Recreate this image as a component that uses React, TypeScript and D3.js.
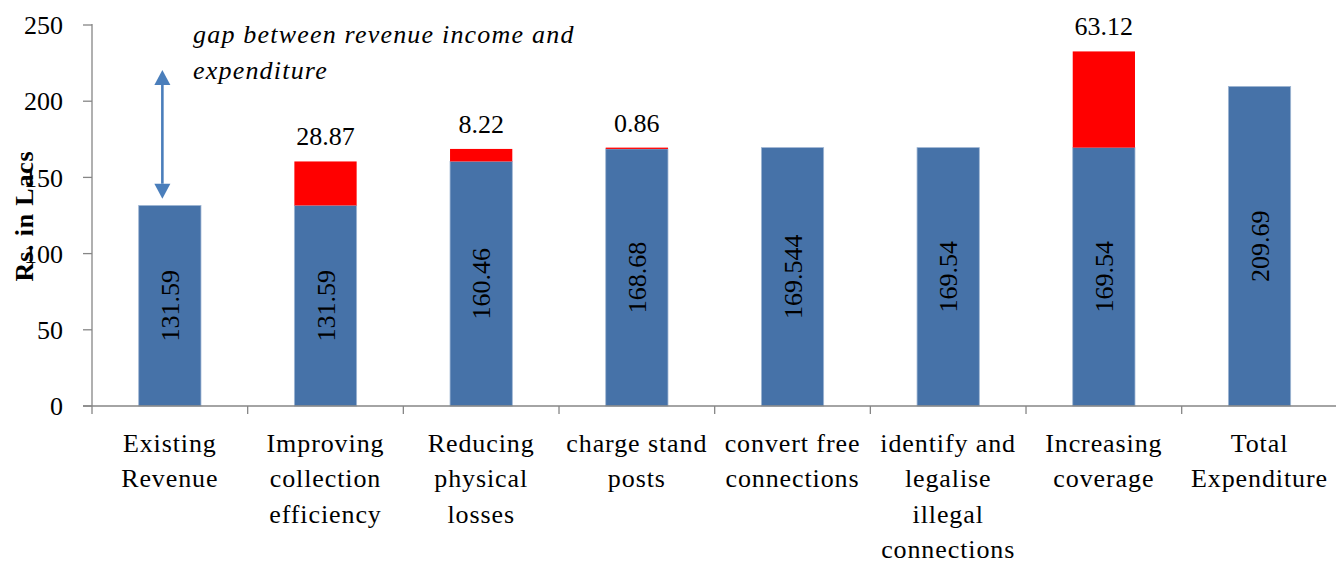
import React from "react";
import * as d3 from "d3";

const categories: string[][] = [
  ["Existing", "Revenue"],
  ["Improving", "collection", "efficiency"],
  ["Reducing", "physical", "losses"],
  ["charge stand", "posts"],
  ["convert free", "connections"],
  ["identify and", "legalise", "illegal", "connections"],
  ["Increasing", "coverage"],
  ["Total", "Expenditure"],
];
const baseValues = [131.59, 131.59, 160.46, 168.68, 169.544, 169.54, 169.54, 209.69];
const baseLabels = ["131.59", "131.59", "160.46", "168.68", "169.544", "169.54", "169.54", "209.69"];
const gapValues = [0, 28.87, 8.22, 0.86, 0, 0, 63.12, 0];
const gapLabels = ["", "28.87", "8.22", "0.86", "", "", "63.12", ""];
const yTicks = [0, 50, 100, 150, 200, 250];
const arrowRange = [136, 220.5];
const yTitle = "Rs. in Lacs";
const noteLines = ["gap between revenue income and", "expenditure"];

const W = 1336;
const H = 564;
const left = 92;
const bottom = 406;
const top = 25;
const step = 155.67;

const BLUE = "#4672A8";
const RED = "#FF0000";
const AXIS = "#868686";
const ARROW = "#4A7EBB";
const FONT = "'Liberation Serif', 'Times New Roman', serif";

export default function App() {
  const ids = categories.map((_, i) => String(i));
  const x = d3
    .scaleBand<string>()
    .domain(ids)
    .range([left, left + step * categories.length])
    .paddingInner(0.6)
    .paddingOuter(0.3);
  const y = d3.scaleLinear().domain([0, 250]).range([bottom, top]);
  const bw = x.bandwidth();
  const stepX = x.step();
  const boundaries = d3.range(categories.length + 1).map((i) => left + i * stepX);

  const arrowX = (x("0") as number) + bw * 0.38;
  const yA1 = y(arrowRange[1]);
  const yA0 = y(arrowRange[0]);
  const headL = 15;
  const headW = 8;

  return (
    <svg
      width={W}
      height={H}
      style={{ position: "absolute", left: 0, top: 0, background: "#fff" }}
      fontFamily={FONT}
    >
      {/* bars */}
      {baseValues.map((v, i) => {
        const bx = x(String(i)) as number;
        return (
          <g key={"b" + i}>
            <rect
              x={bx}
              y={y(v)}
              width={bw}
              height={y(0) - y(v)}
              fill={BLUE}
              stroke="#9FB6D3"
              strokeWidth={0.8}
            />
            {gapValues[i] > 0 && (
              <rect
                x={bx}
                y={y(v + gapValues[i])}
                width={bw}
                height={y(v) - y(v + gapValues[i])}
                fill={RED}
              />
            )}
          </g>
        );
      })}

      {/* axes */}
      <line x1={left} x2={left} y1={top - 1} y2={bottom} stroke={AXIS} strokeWidth={1.3} />
      <line x1={left - 9} x2={W} y1={bottom} y2={bottom} stroke={AXIS} strokeWidth={1.3} />
      {yTicks.map((t) => (
        <g key={"yt" + t}>
          <line x1={left - 9} x2={left} y1={y(t)} y2={y(t)} stroke={AXIS} strokeWidth={1.3} />
          <text x={63} y={y(t)} dy="0.35em" textAnchor="end" fontSize={26} fill="#000">
            {t}
          </text>
        </g>
      ))}
      {boundaries.map((bx, i) => (
        <line key={"xt" + i} x1={bx} x2={bx} y1={bottom} y2={bottom + 8} stroke={AXIS} strokeWidth={1.3} />
      ))}

      {/* category labels */}
      {categories.map((lines, i) => {
        const cx = (x(String(i)) as number) + bw / 2;
        return (
          <text key={"c" + i} textAnchor="middle" fontSize={26} letterSpacing={0.9} fill="#000">
            {lines.map((ln, j) => (
              <tspan key={j} x={cx} y={452 + j * 35.3}>
                {ln}
              </tspan>
            ))}
          </text>
        );
      })}

      {/* inside labels */}
      {baseValues.map((v, i) => {
        const cx = (x(String(i)) as number) + bw / 2;
        const cy = y(v / 2);
        return (
          <text
            key={"il" + i}
            transform={`translate(${cx},${cy}) rotate(-90)`}
            textAnchor="middle"
            dy="0.35em"
            fontSize={26}
            fill="#000"
          >
            {baseLabels[i]}
          </text>
        );
      })}

      {/* top labels */}
      {gapValues.map((g, i) =>
        g > 0 ? (
          <text
            key={"tl" + i}
            x={(x(String(i)) as number) + bw / 2}
            y={y(baseValues[i] + g) - 16}
            textAnchor="middle"
            fontSize={26}
            fill="#000"
          >
            {gapLabels[i]}
          </text>
        ) : null
      )}

      {/* y title */}
      <text
        transform={`translate(24,${216}) rotate(-90)`}
        textAnchor="middle"
        dy="0.35em"
        fontSize={26}
        fontWeight="bold"
        letterSpacing={0.8}
        fill="#000"
      >
        {yTitle}
      </text>

      {/* annotation arrow */}
      <line x1={arrowX} x2={arrowX} y1={yA1 + headL} y2={yA0 - headL} stroke={ARROW} strokeWidth={2.6} />
      <path
        d={`M${arrowX},${yA1} L${arrowX - headW},${yA1 + headL} L${arrowX + headW},${yA1 + headL} Z`}
        fill={ARROW}
      />
      <path
        d={`M${arrowX},${yA0} L${arrowX - headW},${yA0 - headL} L${arrowX + headW},${yA0 - headL} Z`}
        fill={ARROW}
      />
      <text fontSize={26} fontStyle="italic" letterSpacing={1.2} fill="#000">
        {noteLines.map((ln, j) => (
          <tspan key={j} x={193} y={43 + j * 36}>
            {ln}
          </tspan>
        ))}
      </text>
    </svg>
  );
}
